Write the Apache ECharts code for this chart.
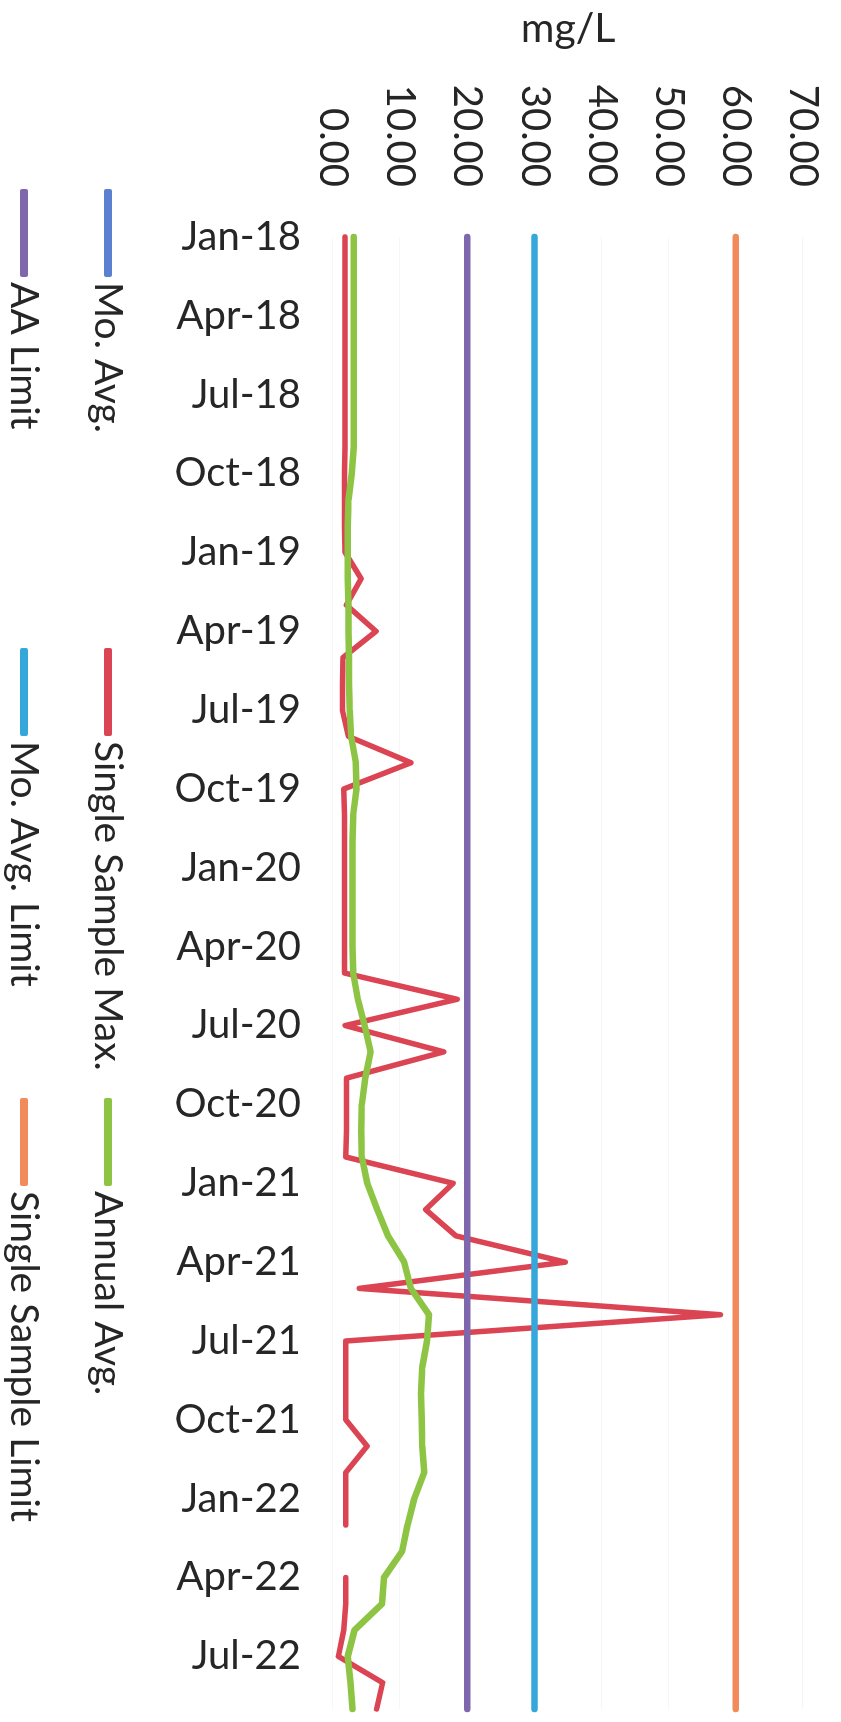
<!DOCTYPE html>
<html>
<head>
<meta charset="utf-8">
<title>mg/L</title>
<script src="https://cdn.jsdelivr.net/npm/echarts@6/dist/echarts.min.js"></script>
<style>
  html, body { margin: 0; padding: 0; width: 841px; height: 1722px; overflow: hidden; background: #ffffff; }
  /* The chart is laid out landscape (1722 x 841) and turned a quarter-turn clockwise,
     so the dates run down the page and mg/L runs left to right. */
  #chart {
    position: absolute; left: 0; top: 0;
    width: 1722px; height: 841px;
    transform-origin: 0 0;
    transform: translate(841px, 0) rotate(90deg);
  }
</style>
</head>
<body>
<div id="chart"></div>
<script>
// Monthly sample dates
const months = [
  'Jan-18','Feb-18','Mar-18','Apr-18','May-18','Jun-18','Jul-18','Aug-18','Sep-18','Oct-18','Nov-18','Dec-18',
  'Jan-19','Feb-19','Mar-19','Apr-19','May-19','Jun-19','Jul-19','Aug-19','Sep-19','Oct-19','Nov-19','Dec-19',
  'Jan-20','Feb-20','Mar-20','Apr-20','May-20','Jun-20','Jul-20','Aug-20','Sep-20','Oct-20','Nov-20','Dec-20',
  'Jan-21','Feb-21','Mar-21','Apr-21','May-21','Jun-21','Jul-21','Aug-21','Sep-21','Oct-21','Nov-21','Dec-21',
  'Jan-22','Feb-22','Mar-22','Apr-22','May-22','Jun-22','Jul-22','Aug-22','Sep-22'
];

// Mo. Avg. (no points plotted)
const moAvg = [];

// Single Sample Max. (mg/L); Mar-22 has no sample
const singleSampleMax = [
  1.8, 1.8, 1.8, 1.8, 1.8, 1.8, 1.8, 1.8, 1.8, 1.7, 1.7, 1.7,
  1.8, 4.2, 2.0, 6.4, 1.5, 1.4, 1.4, 2.3, 11.6, 1.6, 1.7, 1.7,
  1.7, 1.7, 1.7, 1.7, 1.7, 18.5, 1.8, 16.5, 2.0, 2.0, 2.0, 1.9,
  17.9, 13.8, 18.3, 34.6, 3.9, 57.7, 1.9, 1.9, 1.9, 1.9, 5.1, 1.9,
  1.9, 1.9, null, 1.9, 1.9, 1.6, 0.8, 7.4, 6.5
];

// Annual Avg. (mg/L)
const annualAvg = [
  3.1, 3.1, 3.1, 3.1, 3.1, 3.1, 3.1, 3.1, 3.1, 2.8, 2.3, 2.2,
  2.2, 2.2, 2.3, 2.3, 2.4, 2.4, 2.5, 2.7, 3.4, 3.5, 3.0, 2.9,
  2.9, 2.9, 2.9, 2.9, 3.0, 3.7, 4.7, 5.6, 4.8, 4.3, 4.2, 4.3,
  5.1, 6.6, 8.2, 10.6, 11.6, 14.3, 14.0, 13.3, 13.1, 13.2, 13.3, 13.6,
  12.1, 11.1, 10.3, 7.6, 7.3, 3.2, 2.2, 2.6, 2.9
];

// Permit limits (mg/L)
const aaLimit = 20;
const moAvgLimit = 30;
const singleSampleLimit = 60;

// Value axis ticks
const valueTicks = [0, 10, 20, 30, 40, 50, 60, 70];

const FONT = 'Lato';
const TEXT = '#262626';

const colors = {
  moAvg: '#5B7FD1',
  ssMax: '#DB4453',
  annual: '#8DC443',
  aa: '#7F67AD',
  moLimit: '#36A7DB',
  ssLimit: '#F28B5B'
};

function lineSeries(name, data, color, width) {
  return {
    name: name,
    type: 'line',
    data: data,
    symbol: 'none',
    showSymbol: false,
    connectNulls: false,
    silent: true,
    animation: false,
    itemStyle: { color: color },
    lineStyle: { color: color, width: width, cap: 'round', join: 'round' }
  };
}

function legendItem(name, left, top) {
  return {
    data: [name],
    left: left,
    top: top,
    orient: 'horizontal',
    padding: 0,
    icon: 'roundRect',
    itemWidth: 88,
    itemHeight: 8,
    selectedMode: false,
    textStyle: { fontFamily: FONT, fontSize: 39, lineHeight: 40, color: TEXT }
  };
}

const chart = echarts.init(document.getElementById('chart'), null, { renderer: 'canvas' });

chart.setOption({
  backgroundColor: '#ffffff',
  animation: false,
  grid: { left: 228, right: 13, top: 38, bottom: 333, containLabel: false },
  xAxis: {
    type: 'category',
    data: months,
    boundaryGap: false,
    axisLine: { show: false },
    axisTick: { show: false },
    splitLine: { show: false },
    axisLabel: {
      interval: 2,
      rotate: 90,
      margin: 32,
      fontFamily: FONT,
      fontSize: 40,
      color: TEXT
    }
  },
  yAxis: {
    type: 'value',
    min: valueTicks[0],
    max: valueTicks[valueTicks.length - 1],
    interval: valueTicks[1] - valueTicks[0],
    name: 'mg/L',
    nameLocation: 'middle',
    nameRotate: 90,
    nameGap: 188,
    nameTextStyle: { fontFamily: FONT, fontSize: 41, color: TEXT },
    axisLine: { show: false },
    axisTick: { show: false },
    splitLine: { show: true, lineStyle: { color: '#f6f6f6', width: 1 } },
    axisLabel: {
      margin: 50,
      fontFamily: FONT,
      fontSize: 40,
      color: TEXT,
      formatter: function (v) { return v.toFixed(2); }
    }
  },
  legend: [
    legendItem('Mo. Avg.', 189, 713),
    legendItem('Single Sample Max.', 648, 713),
    legendItem('Annual Avg.', 1098, 713),
    legendItem('AA Limit', 189, 797),
    legendItem('Mo. Avg. Limit', 648, 797),
    legendItem('Single Sample Limit', 1098, 797)
  ],
  series: [
    lineSeries('Mo. Avg.', moAvg, colors.moAvg, 5),
    lineSeries('Single Sample Max.', singleSampleMax, colors.ssMax, 5.5),
    lineSeries('Annual Avg.', annualAvg, colors.annual, 6.5),
    lineSeries('AA Limit', months.map(function () { return aaLimit; }), colors.aa, 6.5),
    lineSeries('Mo. Avg. Limit', months.map(function () { return moAvgLimit; }), colors.moLimit, 6.5),
    lineSeries('Single Sample Limit', months.map(function () { return singleSampleLimit; }), colors.ssLimit, 6.5)
  ]
});
</script>
</body>
</html>
